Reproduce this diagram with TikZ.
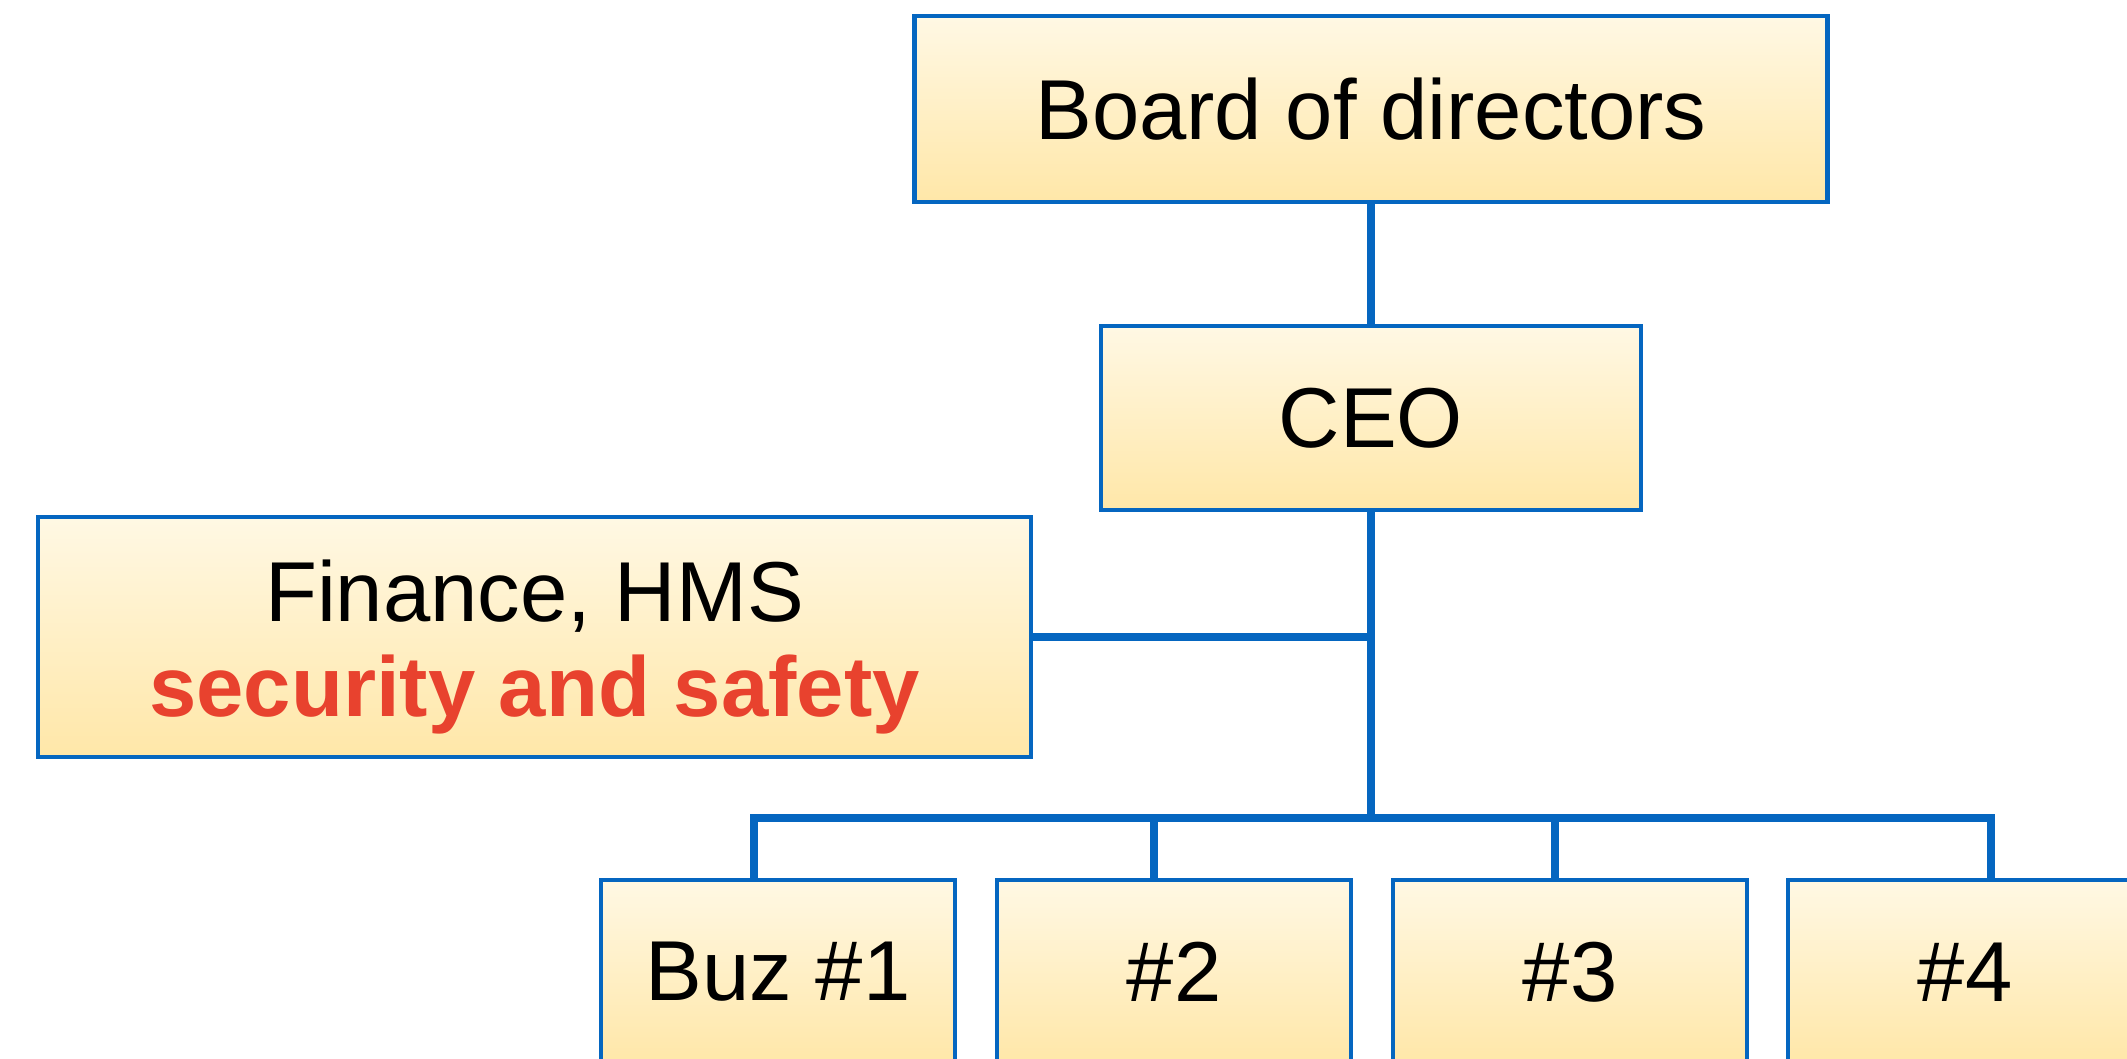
\documentclass[tikz,border=0pt]{standalone}
\usepackage{fontspec}
\setmainfont{Liberation Sans}
\usetikzlibrary{shadings}
\definecolor{orgblue}{RGB}{5,102,192}
\definecolor{boxtop}{RGB}{255,248,228}
\definecolor{boxbottom}{RGB}{255,231,168}
\definecolor{alertred}{RGB}{232,66,46}
\tikzset{orgbox/.style={draw=orgblue,line width=1.4pt,top color=boxtop,bottom color=boxbottom,inner sep=0pt,minimum height=1.84cm,font=\fontsize{24.2}{27}\selectfont,align=center}}
\tikzset{orgline/.style={draw=orgblue,line width=2.3pt}}

\begin{document}
\begin{tikzpicture}
% Page
\useasboundingbox (0,0) rectangle (21.27,-10.58);
\clip (0,0) rectangle (21.27,-10.58);

% Board and CEO
\node[orgbox,minimum width=9.13cm,minimum height=1.86cm] (board) at (13.71,-1.09) {Board of directors};
\node[orgbox,minimum width=5.40cm] (ceo) at (13.71,-4.18) {CEO};

% Staff Box
\node[orgbox,minimum width=9.93cm,minimum height=2.40cm] (staff) at (5.345,-6.37) {\rule{0pt}{0.82cm}Finance, HMS\\\textcolor{alertred}{\textbf{security and safety}}};

% Business Units
\node[orgbox,minimum width=3.54cm] (buz1) at (7.78,-9.72) {Buz \#1};
\node[orgbox,minimum width=3.54cm] (buz2) at (11.74,-9.72) {\#2};
\node[orgbox,minimum width=3.54cm] (buz3) at (15.70,-9.72) {\#3};
\node[orgbox,minimum width=3.54cm] (buz4) at (19.65,-9.72) {\#4};

% Bus Points
\coordinate (bus) at (13.71,-8.18);
\coordinate (drop1) at (7.54,-8.18);
\coordinate (drop2) at (11.54,-8.18);
\coordinate (drop3) at (15.55,-8.18);
\coordinate (drop4) at (19.91,-8.18);

% Connections
\draw[orgline] (board.south) -- (ceo.north);
\draw[orgline] (ceo.south) -- (bus);
\draw[orgline] (staff.east) -- (staff.east -| ceo.south);
\draw[orgline] (drop1 |- buz1.north) -- (drop1) -- (drop4) -- (drop4 |- buz4.north);
\draw[orgline] (drop2) -- (drop2 |- buz2.north);
\draw[orgline] (drop3) -- (drop3 |- buz3.north);

\end{tikzpicture}
\end{document}
